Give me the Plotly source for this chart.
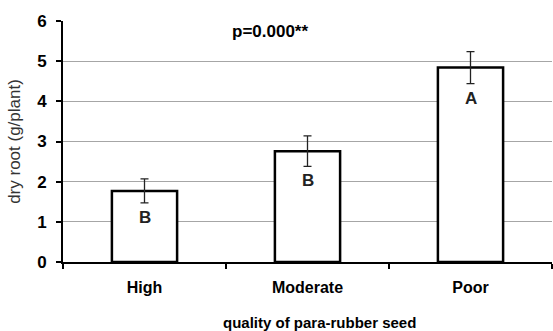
import plotly.graph_objects as go

categories = ["High", "Moderate", "Poor"]
values = [1.77, 2.76, 4.84]
errors = [0.30, 0.38, 0.40]
letters = ["B", "B", "A"]
y_ticks = [0, 1, 2, 3, 4, 5, 6]

fig = go.Figure()
fig.add_trace(go.Bar(
    x=categories, y=values, width=0.4,
    marker=dict(color="white", line=dict(color="black", width=2.5)),
    error_y=dict(type="data", array=errors, color="#222222", thickness=1.3, width=4),
))

for c, v, e, l in zip(categories, values, errors, letters):
    fig.add_annotation(x=c, y=v - e, text="<b>" + l + "</b>", showarrow=False, yanchor="top", yshift=-3,
                       font=dict(family="Liberation Sans", size=17, color="#222222"))

fig.add_annotation(x=0.77, y=5.75, xref="x", yref="y", text="<b>p=0.000**</b>", showarrow=False,
                   font=dict(family="Liberation Sans", size=17, color="black"))

# x-axis title, slightly right of plot centre as in the original
fig.add_annotation(x=0.525, y=0, xref="paper", yref="paper", yshift=-60, yanchor="middle",
                   text="<b>quality of para-rubber seed</b>", showarrow=False,
                   font=dict(family="Liberation Sans", size=15, color="black"))

fig.update_layout(
    width=553, height=331,
    margin=dict(l=63, r=1, t=21, b=69),
    plot_bgcolor="white", paper_bgcolor="white",
    showlegend=False,
    bargap=0.6,
)
fig.update_xaxes(
    showline=True, linecolor="black", linewidth=2,
    ticks="outside", tickson="boundaries", ticklen=5, tickwidth=2, tickcolor="black",
    ticklabelstandoff=10,
    tickfont=dict(family="Liberation Sans", size=16, color="black", weight="bold"),
)
fig.update_yaxes(
    range=[0, 6], tickvals=y_ticks,
    showline=True, linecolor="black", linewidth=2,
    ticks="outside", ticklen=5, tickwidth=2, tickcolor="black",
    ticklabelstandoff=6,
    showgrid=True, gridcolor="#a6a6a6", gridwidth=1,
    tickfont=dict(family="Liberation Sans", size=17, color="black", weight="bold"),
    title=dict(text="dry root (g/plant)", standoff=12,
               font=dict(family="Liberation Sans", size=17, color="#333333")),
    zeroline=False,
)

fig.write_html("out.html")
